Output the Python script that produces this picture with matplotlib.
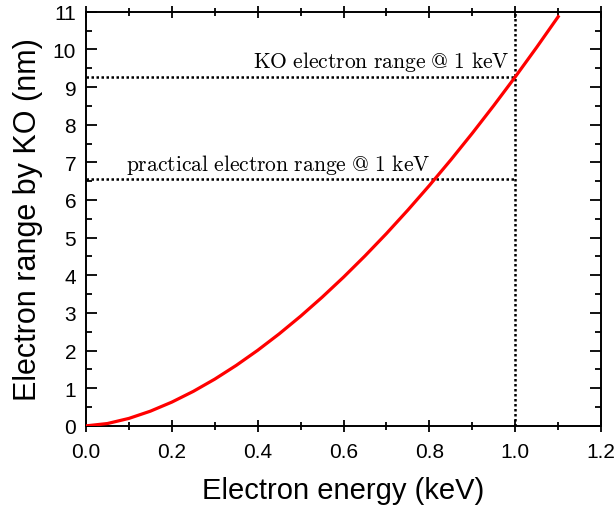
import matplotlib
matplotlib.use("Agg")
import matplotlib.pyplot as plt
from matplotlib.ticker import MultipleLocator, FormatStrFormatter

energy = [0.0, 0.05, 0.1, 0.15, 0.2, 0.25, 0.3, 0.35, 0.4, 0.45, 0.5, 0.55,
          0.6, 0.65, 0.7, 0.75, 0.8, 0.85, 0.9, 0.95, 1.0, 1.05, 1.1]
ko_range = [0.0, 0.062, 0.198, 0.390, 0.631, 0.916, 1.241, 1.606, 2.007, 2.443,
            2.913, 3.416, 3.950, 4.515, 5.109, 5.734, 6.386, 7.066, 7.774,
            8.509, 9.27, 10.057, 10.869]
ref_energy = 1.0
ko_at_1kev = 9.27
practical_at_1kev = 6.55

plt.rcParams['font.family'] = ['Liberation Sans', 'DejaVu Sans']
plt.rcParams['mathtext.fontset'] = 'cm'

fig = plt.figure(figsize=(6.14, 5.10), dpi=100)
ax = fig.add_axes([0.140, 0.163, 0.839, 0.812])

ax.plot(energy, ko_range, color='#ff0000', lw=2.3, zorder=3)

dot = dict(color='black', lw=1.8, linestyle=(0, (1, 1)), zorder=2)
ax.plot([0, ref_energy], [ko_at_1kev, ko_at_1kev], **dot)
ax.plot([0, ref_energy], [practical_at_1kev, practical_at_1kev], **dot)
ax.plot([ref_energy, ref_energy], [0, 11], **dot)

ax.text(0.988, ko_at_1kev + 0.1, r'$\mathrm{KO\ electron\ range\ @\ 1\ keV}$',
        ha='right', va='bottom', fontsize=15.5)
ax.text(0.094, practical_at_1kev + 0.1, r'$\mathrm{practical\ electron\ range\ @\ 1\ keV}$',
        ha='left', va='bottom', fontsize=15.5)

ax.set_xlim(0, 1.2)
ax.set_ylim(0, 11)
ax.xaxis.set_major_locator(MultipleLocator(0.2))
ax.xaxis.set_minor_locator(MultipleLocator(0.1))
ax.yaxis.set_major_locator(MultipleLocator(1))
ax.yaxis.set_minor_locator(MultipleLocator(0.5))
ax.xaxis.set_major_formatter(FormatStrFormatter('%.1f'))

ax.tick_params(axis='x', which='major', direction='inout', length=9, width=1.3,
               top=True, labelsize=15, pad=7)
ax.tick_params(axis='x', which='minor', direction='inout', length=6, width=1.3, top=True)
ax.tick_params(axis='y', which='major', direction='in', length=8, width=1.3,
               right=True, labelsize=15, pad=7)
ax.tick_params(axis='y', which='minor', direction='in', length=4, width=1.3, right=True)
for s in ax.spines.values():
    s.set_linewidth(1.4)

ax.set_xlabel('Electron energy (keV)', fontsize=21, labelpad=11)
ax.set_ylabel('Electron range by KO (nm)', fontsize=22, labelpad=7)

fig.savefig('out.png', dpi=100)
